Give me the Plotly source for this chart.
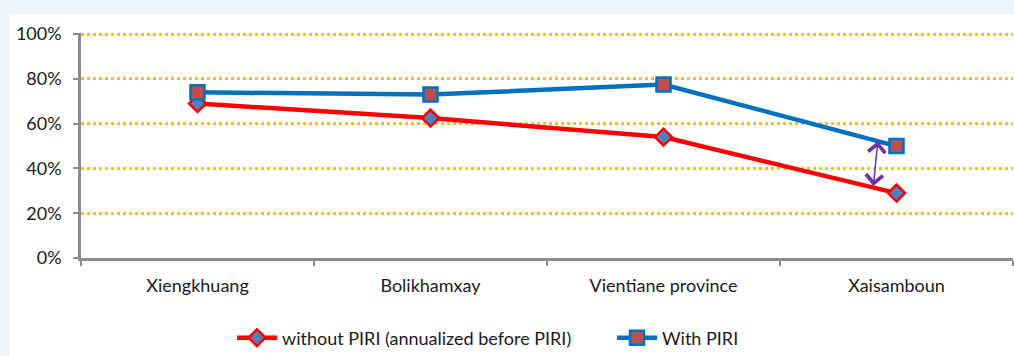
import numpy as np
import plotly.graph_objects as go

# Province categories and the two series (share of households, 0..1)
provinces = ["Xiengkhuang", "Bolikhamxay", "Vientiane province", "Xaisamboun"]
without_piri = [0.69, 0.625, 0.54, 0.29]
with_piri = [0.74, 0.73, 0.775, 0.50]
y_ticks = [0, 0.2, 0.4, 0.6, 0.8, 1.0]

# Figure geometry in pixels
W, H = 1014, 356
ML, MR, MT, MB = 81, 1, 33, 98
PW, PH = W - ML - MR, H - MT - MB
Y_MAX = 1.005  # a little headroom so the 100% gridline is kept

FONT = "Lato"
TEXT = "#1a1a1a"
AXIS = "#8c8c8c"
FRAME = "#EEF6FC"

fig = go.Figure()

fig.add_trace(go.Scatter(
    x=provinces, y=without_piri, mode="lines+markers",
    name="without PIRI (annualized before PIRI)",
    line=dict(color="#FF0000", width=4.5),
    marker=dict(symbol="diamond", size=13, color="#4F81BD",
                line=dict(color="#FF0000", width=2.5)),
))
fig.add_trace(go.Scatter(
    x=provinces, y=with_piri, mode="lines+markers",
    name="With PIRI",
    line=dict(color="#0070C0", width=4.5),
    marker=dict(symbol="square", size=14, color="#C0504D",
                line=dict(color="#0070C0", width=2.5)),
))

# Double-headed arrow marking the gap near the last province,
# with its ends placed on the two lines
idx = np.arange(len(provinces))
x_top, x_bot = 2.92, 2.90
y_top = float(np.interp(x_top, idx, with_piri))
y_bot = float(np.interp(x_bot, idx, without_piri))
fig.add_annotation(
    x=x_top, y=y_top, ax=x_bot, ay=y_bot,
    xref="x", yref="y", axref="x", ayref="y",
    showarrow=True, arrowhead=4, startarrowhead=4, arrowside="end+start",
    arrowsize=2.2, startarrowsize=2.2, arrowwidth=1.5, arrowcolor="#7030A0",
    text="",
)

# Light blue strips along the top and left edges of the card
def px_x(p):
    return (p - ML) / PW

def px_y(p):
    return (MT + PH - p) / PH

fig.add_shape(type="rect", xref="paper", yref="paper", layer="below",
              x0=px_x(-5), x1=px_x(W + 5), y0=px_y(14), y1=px_y(-5),
              fillcolor=FRAME, line=dict(width=0))
fig.add_shape(type="rect", xref="paper", yref="paper", layer="below",
              x0=px_x(-5), x1=px_x(10), y0=px_y(H + 5), y1=px_y(-5),
              fillcolor=FRAME, line=dict(width=0))

fig.update_layout(
    width=W, height=H,
    margin=dict(l=ML, r=MR, t=MT, b=MB, autoexpand=False),
    paper_bgcolor="white",
    plot_bgcolor="white",
    font=dict(family=FONT, size=18, color=TEXT),
    showlegend=True,
    legend=dict(
        orientation="h", x=px_x(232), xanchor="left",
        y=px_y(338), yanchor="middle",
        font=dict(family=FONT, size=18, color=TEXT),
        bgcolor="rgba(0,0,0,0)", itemwidth=40,
        entrywidth=325, entrywidthmode="pixels",
        tracegroupgap=0,
    ),
    xaxis=dict(
        type="category", range=[-0.5, len(provinces) - 0.5],
        showgrid=False, showline=True, linecolor=AXIS, linewidth=2.5,
        ticks="outside", tickson="boundaries", ticklen=5, tickwidth=2,
        tickcolor=AXIS, tickfont=dict(family=FONT, size=18, color=TEXT),
        ticklabelstandoff=10, fixedrange=True,
    ),
    yaxis=dict(
        range=[0, Y_MAX], tickvals=y_ticks, tickformat=".0%",
        showgrid=True, gridcolor="#FFC000", griddash="dot", gridwidth=2.5,
        showline=True, linecolor=AXIS, linewidth=2.5,
        ticks="outside", ticklen=5, tickwidth=2, tickcolor=AXIS,
        tickfont=dict(family=FONT, size=18, color=TEXT),
        ticklabelstandoff=8, zeroline=False, fixedrange=True,
    ),
)

fig.write_html("out.html")
